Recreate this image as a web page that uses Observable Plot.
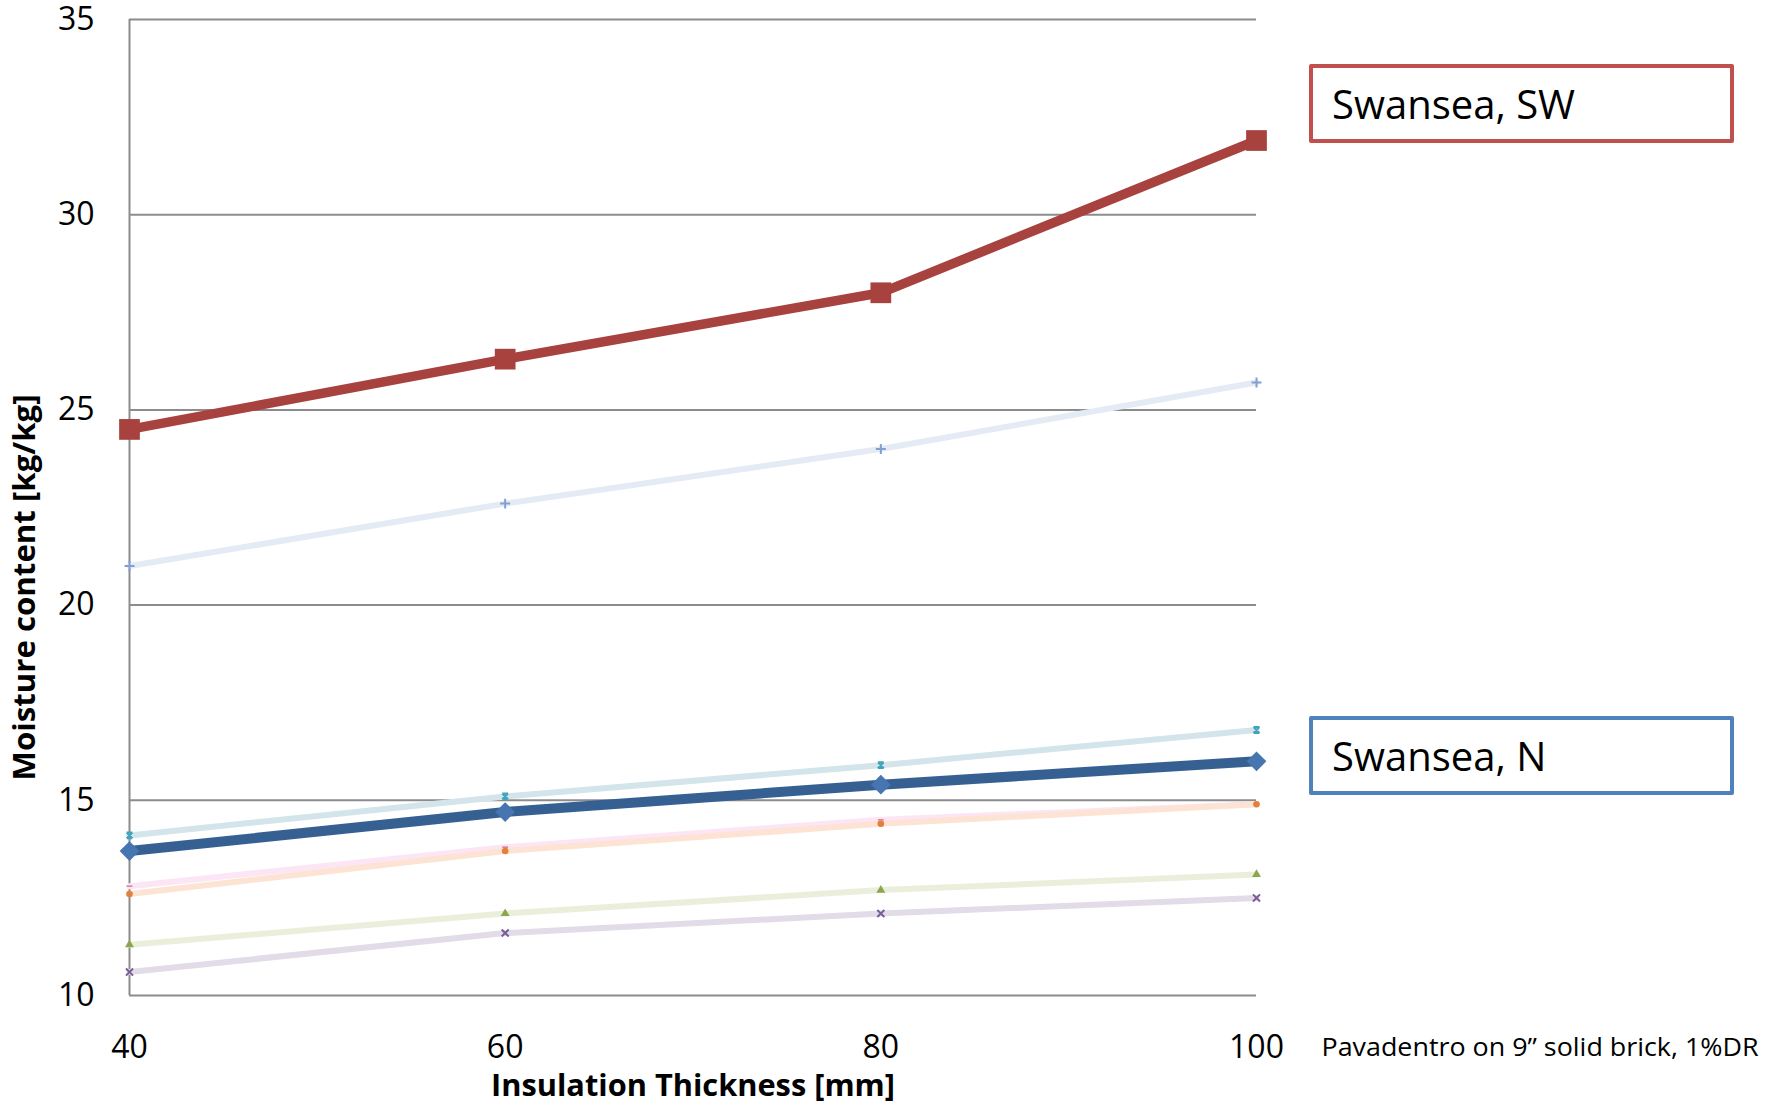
<!DOCTYPE html>
<html>
<head>
<meta charset="utf-8">
<script src="https://cdn.jsdelivr.net/npm/d3@7"></script>
<script src="https://cdn.jsdelivr.net/npm/@observablehq/plot@0.6"></script>
<style>
  html, body { margin: 0; padding: 0; background: #fff; }
  #wrap { position: relative; width: 1792px; height: 1105px; font-family: "Open Sans", sans-serif; }
  .box { position: absolute; box-sizing: border-box; background: #fff; display: flex; align-items: center;
         font-family: "Open Sans", sans-serif; font-size: 40px; color: #000; padding-left: 19px; border-radius: 2px; }
</style>
</head>
<body>
<div id="wrap"></div>
<script>
// ---- data ----
const thickness = [40, 60, 80, 100];
const yTicks = [10, 15, 20, 25, 30, 35];
const swanseaSW = [24.5, 26.3, 28.0, 31.9];
const swanseaN = [13.7, 14.7, 15.4, 16.0];
const seriesLightBlue = [21.0, 22.6, 24.0, 25.7];
const seriesTeal = [14.1, 15.1, 15.9, 16.8];
const seriesPink = [12.8, 13.8, 14.5, 14.9];
const seriesOrange = [12.6, 13.7, 14.4, 14.9];
const seriesGreen = [11.3, 12.1, 12.7, 13.1];
const seriesPurple = [10.6, 11.6, 12.1, 12.5];
const xTitle = "Insulation Thickness [mm]";
const yTitle = "Moisture content [kg/kg]";
const caption = "Pavadentro on 9\u201D solid brick, 1%DR";
const labelSW = "Swansea, SW";
const labelN = "Swansea, N";

// custom marker shapes
const dashSymbol = { draw(ctx, size) { const w = Math.sqrt(size); ctx.rect(-w / 2, -w / 7, w, w / 3.5); } };
const starSymbol = { draw(ctx, size) { const r = Math.sqrt(size) / 2;
  ctx.moveTo(-r, -r); ctx.lineTo(r, r); ctx.moveTo(r, -r); ctx.lineTo(-r, r);
  ctx.moveTo(-r, -r); ctx.lineTo(r, -r); ctx.moveTo(-r, r); ctx.lineTo(r, r); } };

const light = [
  {name: "Series LB", values: seriesLightBlue, line: "#e5ebf4", mark: "#819fd1", symbol: "plus", stroke: true},
  {name: "Series P", values: seriesPink, line: "#fce6f5", mark: "#d98898", symbol: dashSymbol, stroke: false},
  {name: "Series O", values: seriesOrange, line: "#fde3d3", mark: "#e4803c", symbol: "circle", stroke: false},
  {name: "Series G", values: seriesGreen, line: "#eaefdc", mark: "#8aa74c", symbol: "triangle", stroke: false},
  {name: "Series V", values: seriesPurple, line: "#e2dbe8", mark: "#7a5c99", symbol: "times", stroke: true},
  {name: "Series T", values: seriesTeal, line: "#d3e5ea", mark: "#3fa3bb", symbol: starSymbol, stroke: true}
];
const rows = s => thickness.map((t, i) => ({t, v: s.values[i], name: s.name}));

const marks = [
  Plot.gridY(yTicks, {stroke: "#8c8c8c", strokeOpacity: 1, strokeWidth: 2}),
  Plot.ruleX([40], {stroke: "#8c8c8c", strokeWidth: 2}),
  Plot.axisX({ticks: thickness, tickSize: 0, tickPadding: 40, fontSize: 32, label: null, tickFormat: d => String(d)}),
  Plot.axisY({ticks: yTicks, tickSize: 0, tickPadding: 35, fontSize: 32, label: null, tickFormat: d => String(d)})
];
for (const s of light) {
  marks.push(Plot.line(rows(s), {x: "t", y: "v", stroke: s.line, strokeWidth: 6}));
}
for (const s of light) {
  marks.push(Plot.dot(rows(s), s.stroke
    ? {x: "t", y: "v", symbol: () => s.symbol, r: 3.3, stroke: s.mark, strokeWidth: 2, fill: "none"}
    : {x: "t", y: "v", symbol: () => s.symbol, r: 3.3, fill: s.mark, stroke: "none"}));
}
const sw = thickness.map((t, i) => ({t, v: swanseaSW[i]}));
const n = thickness.map((t, i) => ({t, v: swanseaN[i]}));
marks.push(
  Plot.line(n, {x: "t", y: "v", stroke: "#376092", strokeWidth: 10}),
  Plot.dot(n, {x: "t", y: "v", symbol: "diamond2", r: 8.9, fill: "#4675b0", stroke: "none"}),
  Plot.line(sw, {x: "t", y: "v", stroke: "#a8423f", strokeWidth: 9.5}),
  Plot.dot(sw, {x: "t", y: "v", symbol: "square", r: 11.7, fill: "#a8423f", stroke: "none"}),
  Plot.text([yTitle], {text: d => d, frameAnchor: "left", dx: -104, dy: 80, rotate: -90, textAnchor: "middle", lineAnchor: "middle", fontSize: 30, fontWeight: "bold", fill: "#000"}),
  Plot.text([xTitle], {text: d => d, frameAnchor: "bottom", dy: 91, textAnchor: "middle", lineAnchor: "middle", fontSize: 30, fontWeight: "bold", fill: "#000"}),
  Plot.text([caption], {text: d => d, frameAnchor: "bottom-right", dx: 65, dy: 52, textAnchor: "start", lineAnchor: "middle", fontSize: 26, fill: "#000"})
);

const chart = Plot.plot({
  width: 1792, height: 1105,
  marginLeft: 129, marginRight: 536, marginTop: 19, marginBottom: 110,
  style: {fontFamily: "Open Sans, sans-serif", color: "#000", background: "#fff", overflow: "visible"},
  x: {domain: [40, 100]},
  y: {domain: [10, 35]},
  marks
});
const wrap = document.getElementById("wrap");
wrap.appendChild(chart);

// fit titles to the measured widths of the reference
d3.select(chart).selectAll("text").each(function() {
  const t = this.textContent;
  if (t === yTitle) { this.setAttribute("textLength", 386); this.setAttribute("lengthAdjust", "spacingAndGlyphs"); }
  if (t === xTitle) { this.setAttribute("textLength", 404); this.setAttribute("lengthAdjust", "spacingAndGlyphs"); }
  if (t === caption) { this.setAttribute("textLength", 437); this.setAttribute("lengthAdjust", "spacingAndGlyphs"); }
});

function addBox(text, color, top) {
  const b = document.createElement("div");
  b.className = "box";
  b.textContent = text;
  Object.assign(b.style, {left: "1309px", top: top + "px", width: "425px", height: "79px", border: "4px solid " + color});
  wrap.appendChild(b);
}
addBox(labelSW, "#c0504d", 64);
addBox(labelN, "#4f81bd", 716);
</script>
</body>
</html>
